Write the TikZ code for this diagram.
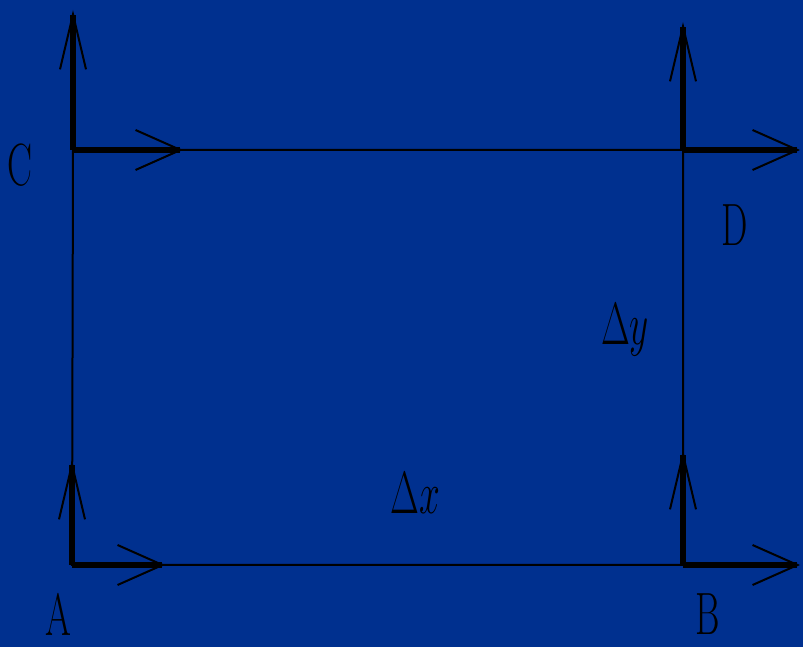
\documentclass[tikz,border=0pt]{standalone}
\usepackage{tikz}
\usetikzlibrary{arrows.meta}
\definecolor{Board}{HTML}{00308F}

\begin{document}
\begin{tikzpicture}[
    x=1pt,y=1pt,
    edge/.style={line width=2pt,black},
    upvec/.style={line width=6pt,black,
      -{Straight Barb[length=55pt,width=26pt,line width=2pt]}},
    rightvec/.style={line width=6pt,black,
      -{Straight Barb[length=45pt,width=40pt,line width=2pt]}},
    lbl/.style={font=\Huge,inner sep=0pt,xscale=1.5,yscale=2.4,transform shape}
  ]
    \fill[Board] (0,0) rectangle (803,647);
    \useasboundingbox (0,0) rectangle (803,647);
    % corners of the cell
    \coordinate (A) at (72,82);
    \coordinate (B) at (683,82);
    \coordinate (C) at (73,497);
    \coordinate (D) at (683,497);
    % free ends of the vectors
    \coordinate (Aup) at (72,187);
    \coordinate (Art) at (165,82);
    \coordinate (Bup) at (683,197);
    \coordinate (Brt) at (800,82);
    \coordinate (Cup) at (73,637);
    \coordinate (Crt) at (183,497);
    \coordinate (Dup) at (683,625);
    \coordinate (Drt) at (800,497);
    \draw[edge] (A)--(B)--(D)--(C)--cycle;
    \draw[upvec] (A)--(Aup);
    \draw[rightvec] (A)--(Art);
    \draw[upvec] (B)--(Bup);
    \draw[rightvec] (B)--(Brt);
    \draw[upvec] (C)--(Cup);
    \draw[rightvec] (C)--(Crt);
    \draw[upvec] (D)--(Dup);
    \draw[rightvec] (D)--(Drt);
    \node[lbl] (labA) at (58,33) {A};
    \node[lbl] (labB) at (708,33) {B};
    \node[lbl] (labC) at (20,482) {C};
    \node[lbl] (labD) at (735,422) {D};
    \node[lbl] (dx) at (415,154) {$\Delta x$};
    \node[lbl] (dy) at (625,317) {$\Delta y$};
\end{tikzpicture}
\end{document}
